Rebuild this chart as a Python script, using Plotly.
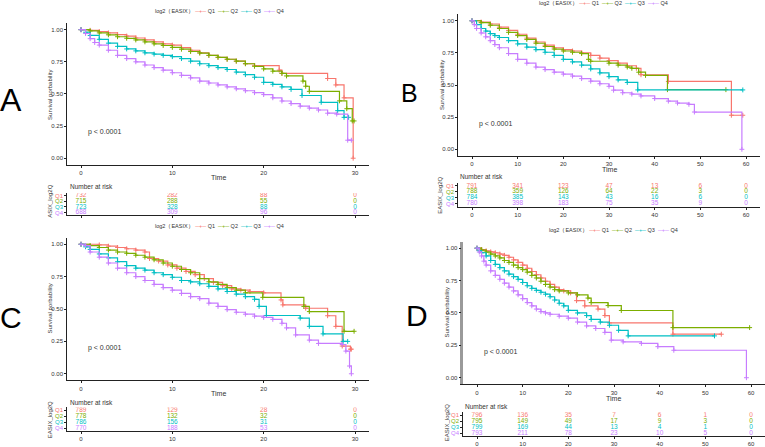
import plotly.graph_objects as go

# ---------------- data ----------------
groups = ["Q1", "Q2", "Q3", "Q4"]

# Panel A (0-30)
A_Q1_time = [0, 1, 2, 3, 4, 5, 6, 7, 8, 9, 10, 11, 12, 13, 14, 15, 16, 17, 18, 19, 21.7, 22, 27, 27.9, 28.8, 29.8]
A_Q1_surv = [1, 0.995, 0.985, 0.975, 0.962, 0.95, 0.935, 0.92, 0.905, 0.89, 0.88, 0.86, 0.84, 0.82, 0.80, 0.785, 0.77, 0.755, 0.735, 0.72, 0.685, 0.66, 0.62, 0.57, 0.47, 0.0]
A_Q2_time = [0, 1, 2, 3, 4, 5, 6, 7, 8, 9, 10, 11, 12, 13, 14, 15, 16, 17, 18, 19, 20, 21, 22, 22.5, 24.3, 24.6, 25, 28.3, 29.1, 29.7, 29.9]
A_Q2_surv = [1, 0.99, 0.975, 0.96, 0.945, 0.933, 0.92, 0.905, 0.89, 0.877, 0.862, 0.848, 0.83, 0.818, 0.80, 0.785, 0.77, 0.755, 0.735, 0.715, 0.695, 0.677, 0.66, 0.64, 0.60, 0.56, 0.52, 0.446, 0.385, 0.29, 0.29]
A_Q3_time = [0, 0.5, 1, 2, 3, 4, 5, 6, 7, 8, 9, 10, 11, 12, 13, 14, 15, 16, 17, 18, 19, 20, 21, 22, 23, 24.2, 26.3, 28.1, 28.8, 29.3]
A_Q3_surv = [1, 0.98, 0.955, 0.925, 0.895, 0.87, 0.85, 0.835, 0.82, 0.81, 0.80, 0.79, 0.775, 0.755, 0.735, 0.72, 0.705, 0.69, 0.67, 0.65, 0.63, 0.59, 0.575, 0.555, 0.535, 0.488, 0.435, 0.37, 0.318, 0.318]
A_Q4_time = [0, 0.5, 1, 1.5, 2, 3, 4, 5, 6, 7, 8, 9, 10, 11, 12, 13, 14, 15, 16, 17, 18, 19, 20, 21, 22, 23, 24, 25, 26, 27, 28, 29.2, 29.6]
A_Q4_surv = [1, 0.97, 0.93, 0.90, 0.88, 0.84, 0.80, 0.775, 0.75, 0.725, 0.705, 0.685, 0.665, 0.645, 0.625, 0.60, 0.585, 0.57, 0.555, 0.54, 0.525, 0.51, 0.495, 0.47, 0.445, 0.425, 0.405, 0.39, 0.375, 0.35, 0.343, 0.14, 0.14]

# Panel B (0-60)
B_Q1_time = [0, 2, 4, 6, 8, 10, 12, 14, 16, 18, 20, 22, 24, 26, 28, 30, 32, 34, 36, 37, 43, 56.8, 59.3]
B_Q1_surv = [1, 0.99, 0.975, 0.95, 0.925, 0.895, 0.865, 0.835, 0.81, 0.79, 0.775, 0.765, 0.75, 0.73, 0.71, 0.69, 0.67, 0.65, 0.63, 0.58, 0.528, 0.265, 0.265]
B_Q2_time = [0, 2, 4, 6, 8, 10, 12, 14, 16, 18, 20, 22, 24, 25.5, 26, 30, 32, 34, 35, 36.5, 38, 42.8, 55.6]
B_Q2_surv = [1, 0.985, 0.965, 0.94, 0.91, 0.885, 0.855, 0.825, 0.80, 0.78, 0.765, 0.755, 0.745, 0.70, 0.685, 0.67, 0.655, 0.64, 0.63, 0.60, 0.575, 0.464, 0.464]
B_Q3_time = [0, 1, 2, 3, 4, 5, 6, 8, 10, 12, 14, 16, 18, 20, 22, 24, 26, 28, 30, 32, 34, 36.3, 59.3]
B_Q3_surv = [1, 0.97, 0.94, 0.92, 0.90, 0.885, 0.87, 0.845, 0.82, 0.795, 0.775, 0.755, 0.73, 0.70, 0.68, 0.655, 0.625, 0.595, 0.565, 0.54, 0.52, 0.462, 0.462]
B_Q4_time = [0, 0.5, 1, 2, 3, 4, 5, 6, 8, 10, 12, 14, 16, 18, 20, 22, 24, 26, 28, 30, 31, 33, 35, 37, 40, 43, 45, 47.5, 48.7, 59.1]
B_Q4_surv = [1, 0.97, 0.94, 0.905, 0.875, 0.845, 0.815, 0.79, 0.745, 0.70, 0.67, 0.64, 0.62, 0.60, 0.585, 0.57, 0.55, 0.53, 0.51, 0.49, 0.46, 0.44, 0.43, 0.415, 0.395, 0.375, 0.36, 0.35, 0.29, 0.0]

# Panel C (0-30)
C_Q1_time = [0, 2, 3, 4, 5, 6, 7, 7.5, 8.5, 9.5, 10.5, 11.5, 12.5, 13.5, 14.5, 15.5, 16.5, 17.5, 18.5, 20, 21.9, 22.1, 24.6, 27, 27.9, 28.6, 29.5, 29.6]
C_Q1_surv = [1, 0.995, 0.985, 0.975, 0.965, 0.955, 0.94, 0.89, 0.87, 0.84, 0.815, 0.79, 0.765, 0.735, 0.705, 0.68, 0.655, 0.645, 0.635, 0.625, 0.57, 0.532, 0.506, 0.448, 0.366, 0.214, 0.19, 0.19]
C_Q2_time = [0, 1, 2, 3, 4, 5, 6, 7, 8, 9, 10, 11, 12, 13, 14, 15, 16, 17, 18, 19.9, 24.4, 25, 28.8, 29.9]
C_Q2_surv = [1, 0.99, 0.975, 0.955, 0.94, 0.93, 0.915, 0.90, 0.88, 0.855, 0.83, 0.805, 0.78, 0.735, 0.71, 0.69, 0.665, 0.645, 0.625, 0.59, 0.52, 0.48, 0.328, 0.328]
C_Q3_time = [0, 0.5, 1, 2, 3, 4, 5, 6, 7, 8, 9, 10, 11, 12, 13, 14, 15, 16, 17, 18, 19, 19.5, 20.3, 24, 25, 26.5, 28.7, 29.2]
C_Q3_surv = [1, 0.98, 0.96, 0.925, 0.895, 0.865, 0.835, 0.815, 0.80, 0.78, 0.765, 0.745, 0.72, 0.71, 0.695, 0.675, 0.655, 0.635, 0.615, 0.595, 0.575, 0.52, 0.45, 0.43, 0.366, 0.308, 0.25, 0.25]
C_Q4_time = [0, 0.5, 1, 2, 3, 4, 5, 6, 7, 8, 9, 10, 11, 12, 13, 14, 15, 16, 17, 18, 19, 20, 21, 22, 22.5, 23.5, 25, 26, 28.6, 29, 29.4, 29.6]
C_Q4_surv = [1, 0.99, 0.94, 0.90, 0.855, 0.815, 0.78, 0.75, 0.72, 0.69, 0.665, 0.645, 0.62, 0.595, 0.58, 0.545, 0.52, 0.495, 0.475, 0.46, 0.445, 0.435, 0.42, 0.39, 0.354, 0.30, 0.26, 0.234, 0.226, 0.175, 0.06, 0.0]

# Panel D (0-60)
D_Q1_time = [0, 1, 2, 3, 4, 5, 6, 7, 8, 9, 10, 11, 12, 13, 14, 15, 16, 17, 18, 19, 20.5, 21.8, 23.6, 26.5, 28, 29, 42.9, 53.5]
D_Q1_surv = [1, 0.99, 0.98, 0.972, 0.965, 0.955, 0.945, 0.93, 0.91, 0.89, 0.87, 0.845, 0.82, 0.795, 0.77, 0.745, 0.72, 0.70, 0.68, 0.67, 0.655, 0.595, 0.555, 0.53, 0.48, 0.423, 0.336, 0.336]
D_Q2_time = [0, 1, 2, 3, 4, 5, 6, 7, 8, 9, 10, 11, 12, 13, 14, 15, 16, 17, 18, 20, 22, 24.3, 25, 28.7, 31.6, 42.9, 59.7]
D_Q2_surv = [1, 0.985, 0.97, 0.955, 0.94, 0.925, 0.905, 0.89, 0.87, 0.85, 0.835, 0.815, 0.79, 0.77, 0.745, 0.72, 0.70, 0.68, 0.67, 0.655, 0.64, 0.615, 0.58, 0.557, 0.519, 0.387, 0.387]
D_Q3_time = [0, 0.5, 1, 2, 3, 4, 5, 6, 7, 8, 9, 10, 11, 12, 13, 14, 15, 16, 17, 18, 19, 20, 22, 24, 25, 27, 29, 31, 33.1, 52]
D_Q3_surv = [1, 0.98, 0.965, 0.94, 0.905, 0.875, 0.85, 0.825, 0.80, 0.78, 0.76, 0.735, 0.71, 0.69, 0.675, 0.66, 0.645, 0.625, 0.60, 0.575, 0.555, 0.52, 0.50, 0.48, 0.45, 0.43, 0.405, 0.366, 0.323, 0.323]
D_Q4_time = [0, 0.5, 1, 1.5, 2, 3, 4, 5, 6, 7, 8, 9, 10, 11, 12, 13, 14, 15, 16, 18, 20, 22, 24, 26, 28, 29.4, 32, 36, 39.6, 43.1, 59]
D_Q4_surv = [1, 0.97, 0.94, 0.90, 0.87, 0.825, 0.79, 0.76, 0.73, 0.70, 0.67, 0.64, 0.61, 0.58, 0.555, 0.53, 0.51, 0.50, 0.49, 0.475, 0.46, 0.43, 0.40, 0.38, 0.35, 0.29, 0.277, 0.265, 0.24, 0.212, 0.0]

# Number at risk
A_risk_time = [0, 10, 20, 30]
A_risk = {"Q1": [732, 282, 88, 0], "Q2": [715, 288, 55, 0], "Q3": [723, 328, 88, 0], "Q4": [688, 309, 96, 0]}
B_risk_time = [0, 10, 20, 30, 40, 50, 60]
B_risk = {"Q1": [791, 341, 123, 47, 13, 6, 0], "Q2": [788, 359, 126, 64, 22, 3, 0],
          "Q3": [784, 385, 143, 43, 16, 6, 0], "Q4": [780, 398, 183, 75, 35, 9, 0]}
C_risk_time = [0, 10, 20, 30]
C_risk = {"Q1": [789, 129, 28, 0], "Q2": [778, 132, 32, 0], "Q3": [786, 156, 31, 0], "Q4": [770, 188, 53, 0]}
D_risk_time = [0, 10, 20, 30, 40, 50, 60]
D_risk = {"Q1": [796, 136, 35, 7, 6, 1, 0], "Q2": [795, 149, 49, 17, 9, 3, 0],
          "Q3": [799, 169, 44, 13, 4, 1, 0], "Q4": [793, 211, 78, 23, 10, 5, 0]}

curves = {
    "A": [(A_Q1_time, A_Q1_surv), (A_Q2_time, A_Q2_surv), (A_Q3_time, A_Q3_surv), (A_Q4_time, A_Q4_surv)],
    "B": [(B_Q1_time, B_Q1_surv), (B_Q2_time, B_Q2_surv), (B_Q3_time, B_Q3_surv), (B_Q4_time, B_Q4_surv)],
    "C": [(C_Q1_time, C_Q1_surv), (C_Q2_time, C_Q2_surv), (C_Q3_time, C_Q3_surv), (C_Q4_time, C_Q4_surv)],
    "D": [(D_Q1_time, D_Q1_surv), (D_Q2_time, D_Q2_surv), (D_Q3_time, D_Q3_surv), (D_Q4_time, D_Q4_surv)],
}
risks = {"A": (A_risk_time, A_risk), "B": (B_risk_time, B_risk), "C": (C_risk_time, C_risk), "D": (D_risk_time, D_risk)}

# ---------------- layout geometry (pixels) ----------------
W, H = 765, 447
colors = ["#F8766D", "#7CAE00", "#00BFC4", "#C77CFF"]
FONT = "Liberation Sans, Arial, sans-serif"
TXT = "#333333"

geo = {
    "A": dict(k=1, x0=81, x1=355, xmax=30, y1=30, y0=160, r1=198, r4=215, tbl_ticks=False,
              letter=(11, 101, 32), legend=(220, 12), ytitle=(50, 96), time=(218, 180),
              nar=(68, 189), rtitle=(50, 204), rlabel="ASIX_log2Q", yline="#222222", ylw=1.2),
    "B": dict(k=2, x0=472, x1=746, xmax=60, y1=21, y0=151, r1=188, r4=206, tbl_ticks=True,
              letter=(409, 94, 25), legend=(603, 4), ytitle=(442, 86), time=(609, 171.5),
              nar=(458, 179), rtitle=(440, 197), rlabel="EASIX_log2Q", yline="#222222", ylw=1.2),
    "C": dict(k=3, x0=81, x1=355, xmax=30, y1=247, y0=378, r1=415, r4=433, tbl_ticks=True,
              letter=(11, 321, 30), legend=(219, 229), ytitle=(50, 312), time=(218, 398),
              nar=(68, 407), rtitle=(50, 425), rlabel="EASIX_log2Q", yline="#222222", ylw=1.2),
    "D": dict(k=4, x0=477, x1=751, xmax=60, y1=251, y0=382, r1=420, r4=438, tbl_ticks=True,
              letter=(417, 319, 30), legend=(613, 233), ytitle=(447, 316), time=(613, 403),
              nar=(463, 411), rtitle=(447, 428), rlabel="EASIX_log2Q", yline="#9a9a9a", ylw=2.5),
}

def fx(x):
    return x / W

def fy(y):
    return 1 - y / H

fig = go.Figure()
layout = dict(width=W, height=H, margin=dict(l=0, r=0, t=0, b=0),
              paper_bgcolor="white", plot_bgcolor="white", showlegend=False,
              font=dict(family=FONT, size=6, color=TXT))
annotations = []

for name, g in geo.items():
    k = g["k"]
    kt = k + 4
    span = g["x1"] - g["x0"]
    left, right = g["x0"] - 0.05 * span, g["x1"] + 0.05 * span
    xr = [-0.05 * g["xmax"], 1.05 * g["xmax"]]
    yspan = g["y0"] - g["y1"]
    top, bot = g["y1"] - 0.05 * yspan, g["y0"] + 0.05 * yspan
    xt = list(range(0, g["xmax"] + 1, 10))

    axis_common = dict(showgrid=False, zeroline=False, showline=True, linecolor="#222222", linewidth=1.2,
                       ticks="outside", ticklen=2, tickcolor="#222222", tickwidth=1,
                       tickfont=dict(size=6, color=TXT, family=FONT))
    layout[f"xaxis{k}"] = dict(domain=[fx(left), fx(right)], range=xr, tickvals=xt,
                               anchor=f"y{k}", **axis_common)
    ycommon = dict(axis_common)
    ycommon.update(linecolor=g["yline"], linewidth=g["ylw"])
    layout[f"yaxis{k}"] = dict(domain=[fy(bot), fy(top)], range=[-0.05, 1.05],
                               tickvals=[0, 0.25, 0.5, 0.75, 1.0],
                               ticktext=["0.00", "0.25", "0.50", "0.75", "1.00"],
                               anchor=f"x{k}", **ycommon)

    # risk table axes
    sp = (g["r4"] - g["r1"]) / 3
    rt, rb = g["r1"] - 0.5 * sp, g["r4"] + 0.5 * sp
    layout[f"xaxis{kt}"] = dict(domain=[fx(left), fx(right)], range=xr, tickvals=xt,
                                showticklabels=g["tbl_ticks"], anchor=f"y{kt}", **axis_common)
    layout[f"yaxis{kt}"] = dict(domain=[fy(rb), fy(rt)], range=[0.5, 4.5],
                                tickvals=[4, 3, 2, 1],
                                ticktext=[f'<span style="color:{c}">{q}</span>' for q, c in zip(groups, colors)],
                                anchor=f"x{kt}", **axis_common)

    # KM curves
    for (t, s), c, q in zip(curves[name], colors, groups):
        fig.add_trace(go.Scatter(x=t, y=s, mode="lines+markers", name=q,
                                 line=dict(shape="hv", color=c, width=1.2),
                                 marker=dict(symbol="cross-thin", size=3.5, color=c, line=dict(width=1, color=c)),
                                 xaxis=f"x{k}", yaxis=f"y{k}", hoverinfo="skip"))

    # risk table numbers
    rtime, rdict = risks[name]
    for i, (q, c) in enumerate(zip(groups, colors)):
        fig.add_trace(go.Scatter(x=rtime, y=[4 - i] * len(rtime), mode="text",
                                 text=[str(v) for v in rdict[q]],
                                 textfont=dict(size=6.5, color=c, family=FONT),
                                 xaxis=f"x{kt}", yaxis=f"y{kt}", hoverinfo="skip"))

    # p-value
    annotations.append(dict(x=0.02 * g["xmax"], y=0.2, xref=f"x{k}", yref=f"y{k}", text="p < 0.0001",
                            showarrow=False, xanchor="left", yanchor="middle",
                            font=dict(size=7, color=TXT, family=FONT)))
    # panel letter
    lx, ly, ls = g["letter"]
    annotations.append(dict(x=fx(lx), y=fy(ly), xref="paper", yref="paper", text=name, showarrow=False,
                            xanchor="center", yanchor="middle", font=dict(size=ls, color="black", family=FONT)))
    # legend (text)
    legtxt = "log2（EASIX） " + "  ".join(
        f'<span style="color:{c}">─+─</span> {q}' for q, c in zip(groups, colors))
    gx, gy = g["legend"]
    annotations.append(dict(x=fx(gx), y=fy(gy), xref="paper", yref="paper", text=legtxt, showarrow=False,
                            xanchor="center", yanchor="middle", font=dict(size=5.5, color=TXT, family=FONT)))
    # axis titles
    tx, ty = g["ytitle"]
    annotations.append(dict(x=fx(tx), y=fy(ty), xref="paper", yref="paper", text="Survival porbability",
                            textangle=-90, showarrow=False, xanchor="center", yanchor="middle",
                            font=dict(size=6, color=TXT, family=FONT)))
    tx, ty = g["time"]
    annotations.append(dict(x=fx(tx), y=fy(ty), xref="paper", yref="paper", text="Time",
                            showarrow=False, xanchor="center", yanchor="middle",
                            font=dict(size=7, color=TXT, family=FONT)))
    tx, ty = g["nar"]
    annotations.append(dict(x=fx(tx), y=fy(ty), xref="paper", yref="paper", text="Number at risk",
                            showarrow=False, xanchor="left", yanchor="middle",
                            font=dict(size=6.5, color=TXT, family=FONT)))
    tx, ty = g["rtitle"]
    annotations.append(dict(x=fx(tx), y=fy(ty), xref="paper", yref="paper", text=g["rlabel"],
                            textangle=-90, showarrow=False, xanchor="center", yanchor="middle",
                            font=dict(size=6, color=TXT, family=FONT)))

layout["annotations"] = annotations
fig.update_layout(**layout)
fig.write_html("out.html")
